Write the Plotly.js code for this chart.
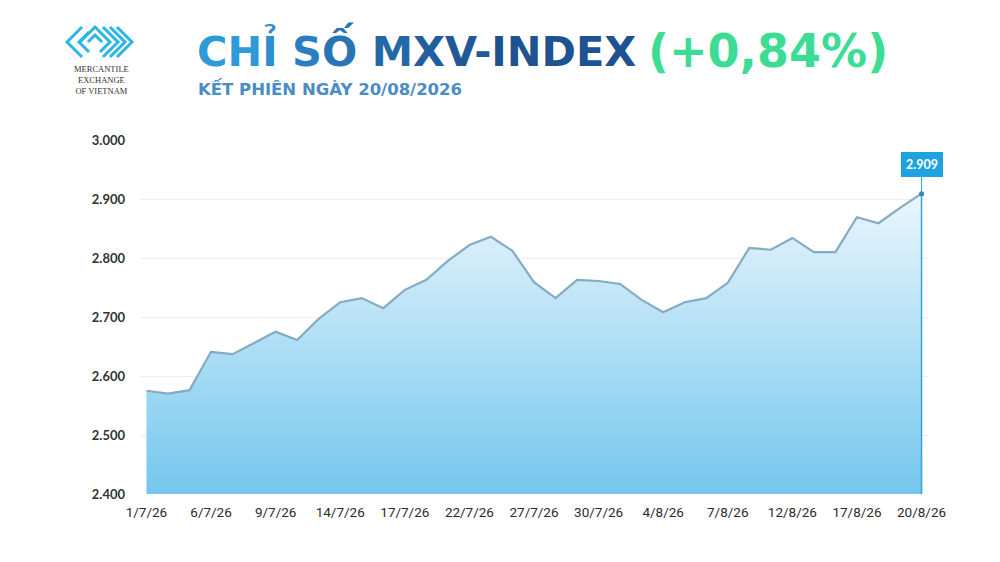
<!DOCTYPE html>
<html>
<head>
<meta charset="utf-8">
<script src="https://cdn.plot.ly/plotly-3.0.1.min.js"></script>
<style>
  html, body { margin: 0; padding: 0; background: #fff; }
  #chart { width: 1000px; height: 562px; }
</style>
</head>
<body>
<div id="chart"></div>
<script>
// trading sessions 1/7/26 .. 20/8/26
const sessions = [
  '1/7/26', '2/7/26', '3/7/26', '6/7/26', '7/7/26', '8/7/26', '9/7/26', '10/7/26',
  '13/7/26', '14/7/26', '15/7/26', '16/7/26', '17/7/26', '20/7/26', '21/7/26', '22/7/26',
  '23/7/26', '24/7/26', '27/7/26', '28/7/26', '29/7/26', '30/7/26', '31/7/26', '3/8/26',
  '4/8/26', '5/8/26', '6/8/26', '7/8/26', '10/8/26', '11/8/26', '12/8/26', '13/8/26',
  '14/8/26', '17/8/26', '18/8/26', '19/8/26', '20/8/26'
];
const mxvIndex = [
  2575, 2570, 2576, 2641, 2637, 2656, 2675, 2661,
  2697, 2725, 2732, 2715, 2746, 2763, 2795, 2822,
  2836, 2812, 2759, 2732, 2763, 2761, 2756, 2729,
  2708, 2725, 2732, 2758, 2817, 2814, 2834, 2810,
  2810, 2869, 2859, 2885, 2909
];
const yTicks = [2400, 2500, 2600, 2700, 2800, 2900, 3000];
const labelEvery = 3;

const xIdx = sessions.map((d, i) => i);
const tickIdx = xIdx.filter(i => i % labelEvery === 0);
const tickText = tickIdx.map(i => sessions[i]);
const last = mxvIndex.length - 1;

const area = {
  x: xIdx,
  y: mxvIndex,
  type: 'scatter',
  mode: 'lines',
  fill: 'tozeroy',
  fillgradient: {
    type: 'vertical',
    start: 2400,
    stop: 2910,
    colorscale: [[0, '#74c7ee'], [1, '#eaf6fc']]
  },
  line: { color: '#84abc1', width: 2.2 },
  hoverinfo: 'skip'
};

const edge = {
  x: [last, last],
  y: [yTicks[0], mxvIndex[last]],
  type: 'scatter',
  mode: 'lines',
  line: { color: '#2ea6dc', width: 1.5 },
  hoverinfo: 'skip'
};

const endPoint = {
  x: [last],
  y: [mxvIndex[last]],
  type: 'scatter',
  mode: 'markers',
  marker: { color: '#2c7fb0', size: 5 },
  hoverinfo: 'skip'
};

// page pixels -> paper coords (plot area 140..928 x 140..494)
const PL = 140, PT = 140, PW = 788, PH = 354;
const px = x => (x - PL) / PW;
const py = y => 1 - (y - PT) / PH;
function pxPath(pts) {
  return pts.map((p, k) => (k ? 'L' : 'M') + px(p[0]).toFixed(4) + ',' + py(p[1]).toFixed(4)).join(' ');
}

// logo mark: nested chevrons
const logoPaths = [
  [[82, 27], [67, 42], [82, 57]],
  [[89, 32], [79, 42], [89, 52]],
  [[80, 42], [95, 27], [110, 42], [100, 52]],
  [[88, 42], [95, 35], [102, 42]],
  [[103, 27], [118, 42], [103, 57]],
  [[110, 27], [125, 42], [110, 57]],
  [[117, 27], [132, 42], [117, 57]]
];
const logoShapes = logoPaths.map(p => ({
  type: 'path', xref: 'paper', yref: 'paper',
  path: pxPath(p), line: { color: '#2db6e4', width: 3 }
}));

const headFont = 'DejaVu Sans, Open Sans, sans-serif';

const layout = {
  width: 1000,
  height: 562,
  margin: { l: PL, r: 1000 - PL - PW, t: PT, b: 562 - PT - PH, pad: 0 },
  paper_bgcolor: '#ffffff',
  plot_bgcolor: '#ffffff',
  showlegend: false,
  separators: ',.',
  xaxis: {
    range: [-0.3, 36.3],
    tickvals: tickIdx,
    ticktext: tickText,
    showgrid: false,
    zeroline: false,
    showline: false,
    ticks: '',
    ticklabelstandoff: 8,
    tickfont: { family: 'Liberation Sans Narrow, Roboto, sans-serif', size: 13.5, color: '#2b2b2b' },
    fixedrange: true
  },
  yaxis: {
    range: [2400, 3000],
    tickvals: yTicks,
    tickformat: ',d',
    showgrid: true,
    gridcolor: '#eeeeee',
    gridwidth: 1,
    zeroline: false,
    showline: false,
    ticks: '',
    ticklabelstandoff: 14,
    tickfont: { family: 'Lato, Open Sans, sans-serif', size: 13, color: '#333333', weight: 700 },
    fixedrange: true
  },
  shapes: logoShapes,
  annotations: [
    {
      xref: 'paper', yref: 'paper', x: px(101), y: py(62),
      xanchor: 'center', yanchor: 'top', showarrow: false,
      text: 'MERCANTILE<br>EXCHANGE<br>OF VIETNAM',
      align: 'center',
      font: { family: 'Liberation Serif, DejaVu Serif, serif', size: 8.5, color: '#333' }
    },
    {
      xref: 'paper', yref: 'paper', x: px(195), y: py(49),
      xanchor: 'left', yanchor: 'middle', showarrow: false,
      text: '<span style="color:#2f9ad8">CH</span><span style="color:#2d8dcf">Ỉ </span>' +
            '<span style="color:#2a7fc2">S</span><span style="color:#2874b5">Ố </span>' +
            '<span style="color:#2568a8">M</span><span style="color:#225e9d">X</span><span style="color:#215896">V-</span>' +
            '<span style="color:#1f5290">INDEX</span>',
      font: { family: headFont, size: 41.5, color: '#2568a8', weight: 700 }
    },
    {
      xref: 'paper', yref: 'paper', x: px(646), y: py(51),
      xanchor: 'left', yanchor: 'middle', showarrow: false,
      text: '(+0,84%)',
      font: { family: headFont, size: 46, color: '#3ddc94', weight: 700 }
    },
    {
      xref: 'paper', yref: 'paper', x: px(196), y: py(88),
      xanchor: 'left', yanchor: 'middle', showarrow: false,
      text: 'KẾT PHIÊN NGÀY 20/08/2026',
      font: { family: headFont, size: 16.5, color: '#4a8cc4', weight: 700 }
    },
    {
      x: last, y: mxvIndex[last], xref: 'x', yref: 'y',
      text: '<b>' + mxvIndex[last].toLocaleString('de-DE') + '</b>',
      showarrow: true, arrowhead: 0, arrowwidth: 1, arrowcolor: '#2ea6dc',
      ax: 0, ay: -29,
      bgcolor: '#1ea3e0', borderpad: 5, borderwidth: 0,
      font: { family: 'Lato, Open Sans, sans-serif', size: 12.5, color: '#ffffff' }
    }
  ]
};

const config = { displayModeBar: false, staticPlot: true };

Plotly.newPlot('chart', [area, edge, endPoint], layout, config);
</script>
</body>
</html>
